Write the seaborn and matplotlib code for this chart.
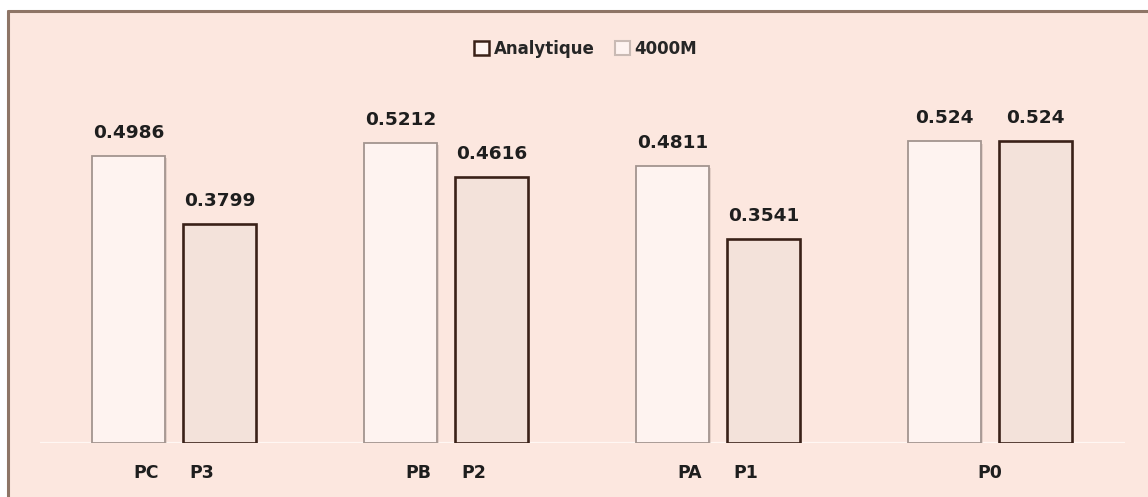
import matplotlib
matplotlib.use("Agg")
import matplotlib.pyplot as plt
import matplotlib.patheffects as pe
from matplotlib.patches import Rectangle, Patch
from matplotlib.lines import Line2D
import seaborn as sns
import pandas as pd

# Data
groups = ["G1", "G2", "G3", "G4"]
series = ["4000M", "Analytique"]
values_4000m = [0.4986, 0.5212, 0.4811, 0.524]
values_analytique = [0.3799, 0.4616, 0.3541, 0.524]
left_labels = ["PC", "PB", "PA", "P0"]
right_labels = ["P3", "P2", "P1", "P0"]

df = pd.DataFrame({
    "group": groups * 2,
    "series": [series[0]] * 4 + [series[1]] * 4,
    "value": values_4000m + values_analytique,
})

BG = "#FCE7DF"
LIGHT_FILL = "#FEF3F0"
LIGHT_EDGE = "#A3948F"
DARK_FILL = "#F3E2DA"
DARK_EDGE = "#3A2118"

sns.set_theme(style="white")
plt.rcParams["font.family"] = ["DejaVu Sans"]

W, H = 1148, 497
fig = plt.figure(figsize=(W / 100, H / 100), dpi=100)
fig.patch.set_facecolor("white")

# Peach panel with a brown frame on top and left
fig.patches.append(Rectangle((8 / W, 0), 1 - 8 / W, (H - 11) / H,
                             transform=fig.transFigure, facecolor=BG,
                             edgecolor="none", zorder=-10))
fig.lines.append(Line2D([8 / W, 1], [(H - 11) / H] * 2, transform=fig.transFigure,
                        color="#8E7566", lw=2.2))
fig.lines.append(Line2D([8 / W] * 2, [0, (H - 11) / H], transform=fig.transFigure,
                        color="#8E7566", lw=2.2))

ax_left, ax_right = 40 / W, 1125 / W
ax_bottom = (H - 443) / H
ax_top = (H - 69) / H
ax = fig.add_axes([ax_left, ax_bottom, ax_right - ax_left, ax_top - ax_bottom])
ax.patch.set_visible(False)

sns.barplot(data=df, x="group", y="value", hue="series", hue_order=series,
            order=groups, palette=[LIGHT_FILL, DARK_FILL], width=0.67, gap=0.2,
            saturation=1, legend=False, ax=ax)

containers = ax.containers
for bar in containers[0]:
    bar.set_edgecolor(LIGHT_EDGE)
    bar.set_linewidth(1.3)
    bar.set_path_effects([pe.SimplePatchShadow(offset=(1.5, -1.5), shadow_rgbFace="#B9A49B", alpha=0.35),
                          pe.Normal()])
for bar in containers[1]:
    bar.set_edgecolor(DARK_EDGE)
    bar.set_linewidth(1.9)

for cont, vals in zip(containers, [values_4000m, values_analytique]):
    ax.bar_label(cont, labels=[f"{v:g}" for v in vals], padding=10.5,
                 fontsize=13.3, fontweight="bold", color="#1E1E1E")

ax.set_xlim(-0.493, 3.496)
ax.set_ylim(0, 0.65)

# Baseline with a soft shadow
ax.axhline(0, color="#FFF7F3", lw=1.6, zorder=0.5)
ax.axhline(-2.2 / 576, color="#EBD3C9", lw=1.2, zorder=0.4)

# Bar labels under each pair
off = 0.103
ticks, tick_labels = [], []
for i, (l, r) in enumerate(zip(left_labels, right_labels)):
    if l == r:
        ticks.append(i)
        tick_labels.append(l)
    else:
        ticks += [i - off, i + off]
        tick_labels += [l, r]
ax.set_xticks(ticks)
ax.set_xticklabels(tick_labels, fontsize=12.5, fontweight="bold", color="#1E1E1E")
ax.tick_params(axis="x", length=0, pad=15)
ax.set_yticks([])
ax.set_xlabel("")
ax.set_ylabel("")
for s in ax.spines.values():
    s.set_visible(False)

handles = [Patch(facecolor=LIGHT_FILL, edgecolor=DARK_EDGE, linewidth=1.8),
           Patch(facecolor=LIGHT_FILL, edgecolor="#C9BAB4", linewidth=1.5)]
fig.legend(handles, ["Analytique", "4000M"], loc="center", ncol=2,
           bbox_to_anchor=(0.51, 1 - 49 / H), frameon=False,
           prop={"weight": "bold", "size": 12}, handlelength=0.9, handleheight=0.9,
           handletextpad=0.3, columnspacing=1.2)

fig.savefig("out.png", dpi=100, facecolor=fig.get_facecolor())
